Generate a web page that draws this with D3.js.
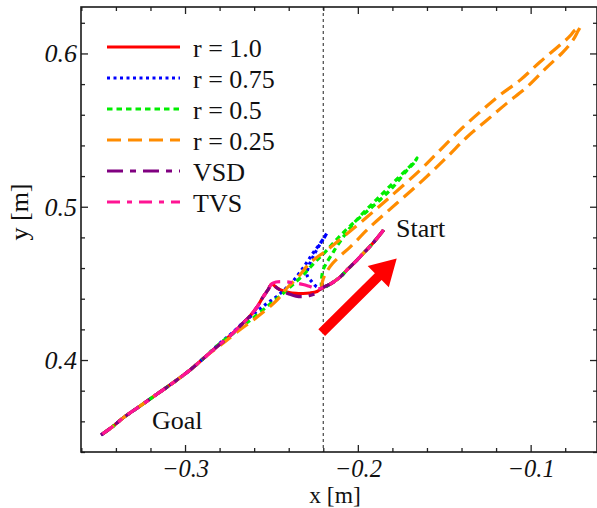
<!DOCTYPE html>
<html>
<head>
<meta charset="utf-8">
<script src="https://cdn.jsdelivr.net/npm/d3@7"></script>
<style>
  html, body { margin: 0; padding: 0; background: #fff; }
  svg { display: block; }
  text { font-family: "Liberation Serif", "Times New Roman", serif; fill: #111; }
</style>
</head>
<body>
<svg id="chart" width="597" height="508"></svg>
<script>
// ---------------- data (metres) ----------------
const seriesNames = ["r = 1.0", "r = 0.75", "r = 0.5", "r = 0.25", "VSD", "TVS"];
const xTicks = [-0.3, -0.2, -0.1];
const yTicks = [0.4, 0.5, 0.6];
const xTickLabels = ["\u22120.3", "\u22120.2", "\u22120.1"];
const yTickLabels = ["0.4", "0.5", "0.6"];
const verticalMarkX = -0.22;

// shared start leg: Start -> junction near x = -0.22
const startLeg = [[-0.1851,0.4848],[-0.1912,0.4763],[-0.1958,0.4708],[-0.2005,0.4652],[-0.2057,0.4594],[-0.2103,0.4541],[-0.2155,0.4499],[-0.2207,0.4470]];
// shared goal leg: cusp -> Goal
const goalLeg = [[-0.2499,0.4496],[-0.2520,0.4457],[-0.2549,0.4411],[-0.2583,0.4346],[-0.2624,0.4287],[-0.2670,0.4235],[-0.2728,0.4170],[-0.2797,0.4104],[-0.2884,0.4020],[-0.2971,0.3935],[-0.3064,0.3856],[-0.3162,0.3778],[-0.3260,0.3700],[-0.3359,0.3622],[-0.3422,0.3563],[-0.3486,0.3511]];
// lower goal leg used by the overshooting runs
const lowerGoalLeg = [[-0.2884,0.4020],[-0.2971,0.3935],[-0.3064,0.3856],[-0.3162,0.3778],[-0.3260,0.3700],[-0.3359,0.3622],[-0.3422,0.3563],[-0.3486,0.3511]];

const r100Mid = [[-0.2236,0.4447],[-0.2277,0.4437],[-0.2317,0.4434],[-0.2358,0.4435],[-0.2398,0.4440],[-0.2439,0.4453],[-0.2468,0.4470]];
const vsdMid  = [[-0.2242,0.4437],[-0.2277,0.4421],[-0.2317,0.4414],[-0.2358,0.4417],[-0.2398,0.4431],[-0.2433,0.4447],[-0.2468,0.4470]];
const tvsMid  = [[-0.2242,0.4466],[-0.2277,0.4479],[-0.2317,0.4493],[-0.2358,0.4502],[-0.2398,0.4509],[-0.2439,0.4512],[-0.2473,0.4509]];
const r075Mid = [[-0.2236,0.4476],[-0.2265,0.4509],[-0.2294,0.4554],[-0.2288,0.4600],[-0.2271,0.4646],[-0.2248,0.4698],[-0.2225,0.4744],[-0.2201,0.4789],[-0.2178,0.4828],
                 [-0.2196,0.4796],[-0.2225,0.4750],[-0.2259,0.4698],[-0.2294,0.4639],[-0.2334,0.4574],[-0.2375,0.4515],[-0.2421,0.4463],[-0.2473,0.4411],[-0.2531,0.4365],[-0.2589,0.4313],[-0.2659,0.4248],[-0.2728,0.4176],[-0.2797,0.4111]];
const r050Mid = [[-0.2210,0.4522],[-0.2201,0.4587],[-0.2178,0.4639],[-0.2149,0.4691],[-0.2120,0.4744],[-0.2028,0.4887],[-0.1889,0.5050],[-0.1796,0.5155],[-0.1715,0.5246],[-0.1669,0.5298],[-0.1657,0.5318],
                 [-0.1675,0.5285],[-0.1715,0.5239],[-0.1796,0.5129],[-0.1872,0.5044],[-0.1958,0.4959],[-0.2045,0.4874],[-0.2115,0.4796],[-0.2184,0.4711],[-0.2253,0.4633],[-0.2317,0.4554],[-0.2392,0.4476],[-0.2450,0.4417],[-0.2508,0.4365],[-0.2578,0.4300],[-0.2659,0.4228],[-0.2740,0.4157],[-0.2797,0.4111]];
const r025Mid = [[-0.2204,0.4515],[-0.2184,0.4568],[-0.2149,0.4626],[-0.2103,0.4678],[-0.2045,0.4737],[-0.1929,0.4868],[-0.1773,0.5024],[-0.1623,0.5174],[-0.1484,0.5324],[-0.1368,0.5455],[-0.1252,0.5566],[-0.1137,0.5676],[-0.1021,0.5781],[-0.0905,0.5911],[-0.0813,0.6009],[-0.0755,0.6087],[-0.0726,0.6146],[-0.0714,0.6172],
                 [-0.0743,0.6153],[-0.0772,0.6114],[-0.0830,0.6055],[-0.0946,0.5944],[-0.1061,0.5826],[-0.1177,0.5729],[-0.1293,0.5618],[-0.1409,0.5500],[-0.1524,0.5370],[-0.1640,0.5239],[-0.1814,0.5063],[-0.1947,0.4933],[-0.2086,0.4802],[-0.2178,0.4718],[-0.2277,0.4633],[-0.2346,0.4541],[-0.2410,0.4470],[-0.2468,0.4391],[-0.2583,0.4280],[-0.2699,0.4183],[-0.2786,0.4104]];

// annotations
const arrowFrom = [-0.2209, 0.4179];
const arrowTo = [-0.1775, 0.4663];
const startLabel = {text: "Start", at: [-0.1779, 0.4802]};
const goalLabel = {text: "Goal", at: [-0.3191, 0.3550]};

const series = [
  {name: seriesNames[0], color: "#ff0000", dash: null,        pts: startLeg.concat(r100Mid, goalLeg)},
  {name: seriesNames[1], color: "#0000ff", dash: "3,3.5",     pts: startLeg.concat(r075Mid, lowerGoalLeg)},
  {name: seriesNames[2], color: "#00ee00", dash: "5.5,4",     pts: startLeg.concat(r050Mid, lowerGoalLeg)},
  {name: seriesNames[3], color: "#ff8c00", dash: "14,7",      pts: startLeg.concat(r025Mid, lowerGoalLeg)},
  {name: seriesNames[4], color: "#800080", dash: "16,7,6,7",  pts: startLeg.concat(vsdMid, goalLeg)},
  {name: seriesNames[5], color: "#ff1493", dash: "13,7,5,7",  pts: startLeg.concat(tvsMid, goalLeg)}
];

// ---------------- layout ----------------
const svg = d3.select("#chart");
const L = 81, R = 597, T = 7, B = 452;
const x = d3.scaleLinear().domain([-0.3602, -0.0616]).range([L, R]);
const y = d3.scaleLinear().domain([0.34, 0.6303]).range([B, T]);

const minorX = d3.range(-0.36, -0.06, 0.02).filter(v => !xTicks.some(t => Math.abs(t - v) < 1e-6));
const minorY = d3.range(0.34, 0.631, 0.02).filter(v => !yTicks.some(t => Math.abs(t - v) < 1e-6));

const fontText = "26px";

// vertical dashed reference line
svg.append("line")
  .attr("x1", x(verticalMarkX)).attr("x2", x(verticalMarkX))
  .attr("y1", T).attr("y2", B)
  .attr("stroke", "#444").attr("stroke-width", 1.2).attr("stroke-dasharray", "3,3");

// axes
function styleAxis(g) {
  g.select(".domain").remove();
  g.selectAll(".tick line").attr("stroke", "#222").attr("stroke-width", 1.3);
}
const bottomMajor = svg.append("g").attr("transform", `translate(0,${B})`)
  .call(d3.axisBottom(x).tickValues(xTicks).tickSize(-7).tickPadding(7.5).tickFormat((d,i) => xTickLabels[i]));
bottomMajor.call(styleAxis);
bottomMajor.selectAll("text").attr("font-size", "24.5px").attr("font-style", "italic")
  .attr("font-family", "Liberation Serif, Times New Roman, serif").attr("fill", "#111");
svg.append("g").attr("transform", `translate(0,${B})`)
  .call(d3.axisBottom(x).tickValues(minorX).tickSize(-4).tickFormat("")).call(styleAxis);
svg.append("g").attr("transform", `translate(0,${T})`)
  .call(d3.axisTop(x).tickValues(xTicks).tickSize(-7).tickFormat("")).call(styleAxis);
svg.append("g").attr("transform", `translate(0,${T})`)
  .call(d3.axisTop(x).tickValues(minorX).tickSize(-4).tickFormat("")).call(styleAxis);

const leftMajor = svg.append("g").attr("transform", `translate(${L},0)`)
  .call(d3.axisLeft(y).tickValues(yTicks).tickSize(-7).tickPadding(4).tickFormat((d,i) => yTickLabels[i]));
leftMajor.call(styleAxis);
leftMajor.selectAll("text").attr("font-size", "26px").attr("font-style", "italic")
  .attr("font-family", "Liberation Serif, Times New Roman, serif").attr("fill", "#111");
svg.append("g").attr("transform", `translate(${L},0)`)
  .call(d3.axisLeft(y).tickValues(minorY).tickSize(-4).tickFormat("")).call(styleAxis);
svg.append("g").attr("transform", `translate(${R},0)`)
  .call(d3.axisRight(y).tickValues(yTicks).tickSize(-7).tickFormat("")).call(styleAxis);
svg.append("g").attr("transform", `translate(${R},0)`)
  .call(d3.axisRight(y).tickValues(minorY).tickSize(-4).tickFormat("")).call(styleAxis);

// frame
svg.append("rect").attr("x", L).attr("y", T).attr("width", R - L).attr("height", B - T)
  .attr("fill", "none").attr("stroke", "#1a1a1a").attr("stroke-width", 1.6);

// axis titles
svg.append("text").attr("x", 335).attr("y", 502.5).attr("text-anchor", "middle")
  .attr("font-size", "23.5px").text("x [m]");
svg.append("text").attr("transform", "translate(28,212) rotate(-90)").attr("text-anchor", "middle")
  .attr("font-size", fontText).text("y [m]");

// curves
const line = d3.line().x(d => x(d[0])).y(d => y(d[1])).curve(d3.curveCatmullRom.alpha(0.5));
series.forEach(s => {
  svg.append("path").datum(s.pts)
    .attr("d", line)
    .attr("fill", "none")
    .attr("stroke", s.color)
    .attr("stroke-width", 3.2)
    .attr("stroke-linejoin", "round")
    .attr("stroke-dasharray", s.dash);
});

// arrow annotation
(function () {
  const x0 = x(arrowFrom[0]), y0 = y(arrowFrom[1]);
  const x1 = x(arrowTo[0]), y1 = y(arrowTo[1]);
  const len = Math.hypot(x1 - x0, y1 - y0);
  const ux = (x1 - x0) / len, uy = (y1 - y0) / len;
  const nx = -uy, ny = ux;
  const headLen = 26, headHalf = 15, shaftHalf = 4.8;
  const bx = x1 - ux * headLen, by = y1 - uy * headLen;
  const pts = [
    [x0 + nx * shaftHalf, y0 + ny * shaftHalf],
    [bx + nx * shaftHalf, by + ny * shaftHalf],
    [bx + nx * headHalf, by + ny * headHalf],
    [x1, y1],
    [bx - nx * headHalf, by - ny * headHalf],
    [bx - nx * shaftHalf, by - ny * shaftHalf],
    [x0 - nx * shaftHalf, y0 - ny * shaftHalf]
  ];
  svg.append("polygon").attr("points", pts.map(p => p.join(",")).join(" ")).attr("fill", "#ff0000");
})();

// point labels
[startLabel, goalLabel].forEach(l => {
  svg.append("text").attr("x", x(l.at[0])).attr("y", y(l.at[1])).attr("font-size", fontText).text(l.text);
});

// legend
const legend = svg.append("g");
series.forEach((s, i) => {
  const yy = 47 + i * 31;
  legend.append("line").attr("x1", 107).attr("x2", 180).attr("y1", yy).attr("y2", yy)
    .attr("stroke", s.color).attr("stroke-width", 3.2).attr("stroke-dasharray", s.dash);
  legend.append("text").attr("x", 193).attr("y", yy + 9.5).attr("font-size", fontText).text(s.name);
});
</script>
</body>
</html>
